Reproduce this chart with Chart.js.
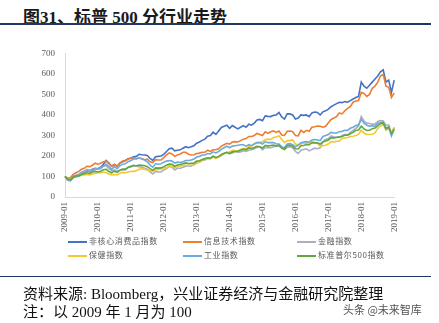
<!DOCTYPE html>
<html>
<head>
<meta charset="utf-8">
<script src="https://cdn.jsdelivr.net/npm/chart.js@4/dist/chart.umd.min.js"></script>
<style>
  body { margin: 0; background: #fff; width: 439px; height: 323px; overflow: hidden; position: relative; }
  .title { position: absolute; left: 23px; top: 3px; font: bold 17px "Liberation Serif", "Noto Sans CJK SC", serif; color: #1a1a1a; white-space: nowrap; }
  .rule { position: absolute; left: 0; width: 431px; background: #203864; }
  .box { position: absolute; left: 0; top: 38px; width: 410px; height: 200px; }
  .legend { position: absolute; left: 0; top: 236px; width: 439px; font: 8px "Noto Sans CJK SC", sans-serif; color: #595959; letter-spacing: 0.6px; }
  .legend .item { position: absolute; white-space: nowrap; line-height: 10px; }
  .legend .swatch { display: inline-block; width: 19px; height: 2px; vertical-align: middle; margin-right: 2px; }
  .note { position: absolute; left: 23px; font: 15px "Liberation Serif", "Noto Sans CJK SC", serif; color: #111; white-space: nowrap; }
  .mark { position: absolute; left: 343px; top: 301px; font: 11px "Noto Sans CJK SC", sans-serif; color: #555; }
</style>
</head>
<body>
<div class="title">图31、标普 500 分行业走势</div>
<div class="rule" style="top:23px;height:2px"></div>
<div class="box"><canvas id="sp"></canvas></div>
<div class="legend" id="legend"></div>
<div class="rule" style="top:276px;height:1px"></div>
<div class="note" style="top:282px">资料来源: Bloomberg，兴业证券经济与金融研究院整理</div>
<div class="note" style="top:300px">注：以 2009 年 1 月为 100</div>
<div class="mark">头条 @未来智库</div>
<script>
// monthly, 2009-01 .. 2019-01, 2009-01 = 100
const yearTicks = ['2009-01', '2010-01', '2011-01', '2012-01', '2013-01', '2014-01',
  '2015-01', '2016-01', '2017-01', '2018-01', '2019-01']

const seriesNames = ['非核心消费品指数', '信息技术指数', '金融指数', '保健指数', '工业指数', '标准普尔500指数']
const seriesColors = ['#4472c4', '#ed7d31', '#adadc4', '#f2c933', '#6fa8dc', '#5fa83f']

const consumer = [
  100, 88, 86, 100, 105, 110, 120, 125, 132, 128, 135, 140,
  138, 145, 160, 178, 165, 150, 158, 150, 165, 172, 178, 186,
  190, 196, 198, 208, 206, 205, 202, 188, 178, 196, 198, 200,
  208, 222, 235, 238, 225, 228, 230, 238, 245, 240, 245, 250,
  262, 268, 276, 282, 296, 300, 316, 305, 322, 339, 345, 350,
  335, 348, 340, 332, 340, 348, 340, 355, 350, 360, 375, 378,
  372, 395, 393, 392, 398, 400, 412, 390, 380, 405, 405, 400,
  380, 385, 400, 398, 400, 392, 410, 414, 412, 400, 415, 420,
  428, 440, 448, 455, 462, 460, 465, 462, 470, 478, 485, 490,
  560, 540, 530, 545, 560, 575, 590, 610, 620, 560, 570, 510,
  570]
const tech = [
  100, 92, 95, 110, 118, 125, 135, 140, 150, 148, 155, 165,
  160, 165, 172, 175, 162, 150, 160, 150, 165, 175, 176, 185,
  188, 192, 188, 190, 188, 182, 185, 172, 168, 182, 180, 180,
  192, 205, 215, 210, 198, 205, 210, 218, 218, 208, 205, 206,
  212, 214, 218, 218, 228, 222, 230, 230, 235, 248, 255, 262,
  258, 268, 270, 268, 275, 282, 285, 295, 295, 300, 310, 305,
  300, 318, 310, 318, 322, 315, 322, 302, 300, 320, 322, 318,
  300, 298, 325, 315, 325, 320, 340, 342, 346, 345, 340, 345,
  362, 378, 385, 392, 410, 405, 420, 432, 440, 462, 468, 470,
  510, 505, 490, 500, 530, 540, 560, 590, 598, 540, 535, 485,
  508]
const financials = [
  100, 82, 80, 95, 105, 110, 118, 125, 135, 130, 132, 138,
  135, 138, 150, 152, 138, 128, 132, 125, 130, 132, 132, 145,
  150, 155, 150, 148, 145, 140, 135, 122, 112, 125, 122, 122,
  132, 138, 150, 145, 132, 140, 140, 145, 150, 152, 150, 158,
  168, 170, 178, 180, 190, 190, 200, 192, 195, 202, 212, 218,
  212, 215, 222, 218, 220, 225, 222, 228, 230, 235, 242, 245,
  230, 242, 240, 240, 245, 248, 250, 238, 232, 242, 245, 240,
  222, 212, 228, 232, 235, 225, 232, 238, 235, 240, 270, 280,
  285, 298, 292, 292, 290, 300, 305, 302, 315, 325, 335, 345,
  392, 370, 360, 358, 355, 355, 368, 372, 370, 350, 352, 310,
  338]
const healthcare = [
  100, 92, 88, 95, 98, 100, 106, 108, 110, 108, 112, 115,
  118, 118, 122, 118, 112, 108, 110, 108, 116, 120, 118, 122,
  125, 125, 128, 135, 138, 135, 130, 128, 126, 132, 134, 136,
  142, 142, 148, 148, 142, 148, 152, 152, 156, 155, 155, 155,
  165, 170, 178, 185, 185, 185, 195, 188, 196, 202, 212, 215,
  220, 228, 226, 225, 232, 236, 236, 245, 248, 260, 265, 265,
  270, 280, 282, 280, 290, 292, 298, 282, 265, 275, 275, 278,
  258, 255, 258, 262, 262, 265, 272, 265, 262, 248, 250, 252,
  258, 270, 268, 272, 272, 285, 288, 290, 295, 296, 300, 305,
  325, 312, 305, 305, 306, 312, 335, 345, 355, 325, 335, 315,
  340]
const industrials = [
  100, 82, 80, 95, 100, 102, 112, 120, 125, 122, 128, 135,
  138, 142, 152, 160, 148, 135, 148, 138, 152, 160, 162, 172,
  178, 185, 185, 190, 185, 180, 172, 155, 145, 162, 160, 162,
  170, 175, 178, 175, 165, 170, 168, 172, 178, 178, 180, 185,
  195, 198, 205, 205, 212, 210, 220, 215, 222, 232, 240, 248,
  240, 248, 250, 252, 255, 255, 248, 255, 250, 258, 265, 265,
  258, 270, 265, 265, 265, 258, 258, 245, 240, 258, 260, 255,
  245, 252, 265, 268, 270, 268, 278, 280, 278, 275, 295, 300,
  305, 315, 312, 312, 318, 320, 325, 325, 335, 340, 348, 352,
  378, 360, 350, 345, 348, 345, 360, 362, 365, 330, 340, 298,
  330]
const sp500 = [
  100, 88, 85, 95, 102, 104, 110, 113, 118, 115, 122, 125,
  122, 126, 133, 135, 124, 118, 126, 120, 131, 136, 136, 144,
  148, 152, 152, 156, 154, 152, 148, 138, 130, 142, 141, 142,
  148, 155, 160, 159, 150, 156, 158, 162, 166, 163, 164, 165,
  175, 177, 183, 187, 191, 189, 198, 192, 198, 207, 213, 218,
  211, 220, 222, 223, 228, 233, 230, 239, 236, 241, 247, 245,
  239, 252, 248, 251, 253, 248, 253, 238, 232, 251, 252, 247,
  235, 234, 250, 251, 256, 255, 264, 264, 264, 258, 268, 273,
  278, 289, 288, 290, 293, 295, 301, 301, 308, 315, 325, 327,
  345, 332, 324, 325, 333, 336, 348, 358, 360, 336, 341, 308,
  330]

const seriesValues = [consumer, tech, financials, healthcare, industrials, sp500]

// month labels for the category axis
const months = []
for (let y = 2009; y <= 2019; y++) {
  for (let m = 1; m <= 12; m++) {
    if (y === 2019 && m > 1) break
    months.push(y + '-' + String(m).padStart(2, '0'))
  }
}

const tickFont = { family: 'Liberation Serif', size: 9 }

new Chart(document.getElementById('sp'), {
  type: 'line',
  data: {
    labels: months,
    datasets: seriesValues.map((values, i) => ({
      label: seriesNames[i],
      data: values,
      borderColor: seriesColors[i],
      backgroundColor: seriesColors[i],
      borderWidth: 1.6,
      pointRadius: 0,
      tension: 0,
      order: seriesValues.length - i
    }))
  },
  options: {
    responsive: true,
    maintainAspectRatio: false,
    animation: false,
    layout: { padding: { left: 0, right: 11, top: 7, bottom: 0 } },
    plugins: { legend: { display: false }, tooltip: { enabled: false } },
    scales: {
      x: {
        offset: false,
        grid: { display: false, drawTicks: false },
        border: { color: '#d9d9d9' },
        ticks: {
          autoSkip: false,
          minRotation: 90,
          maxRotation: 90,
          padding: 5,
          color: '#595959',
          font: tickFont,
          callback: (v, i) => yearTicks.includes(months[i]) ? months[i] : null
        },
        afterFit: scale => { scale.height = 41 }
      },
      y: {
        min: 0,
        max: 700,
        grid: { display: false, drawTicks: false },
        border: { color: '#d9d9d9' },
        ticks: { stepSize: 100, padding: 10, color: '#595959', font: tickFont },
        afterFit: scale => { scale.width = 65 }
      }
    }
  }
})

// legend in three columns, two rows
const legendCols = [68, 183, 297]
const legendRows = [0, 14]
const legend = document.getElementById('legend')
seriesNames.forEach((name, i) => {
  const item = document.createElement('div')
  item.className = 'item'
  item.style.left = legendCols[i % 3] + 'px'
  item.style.top = legendRows[Math.floor(i / 3)] + 'px'
  item.innerHTML = '<span class="swatch" style="background:' + seriesColors[i] + '"></span>' + name
  legend.appendChild(item)
})
</script>
</body>
</html>
